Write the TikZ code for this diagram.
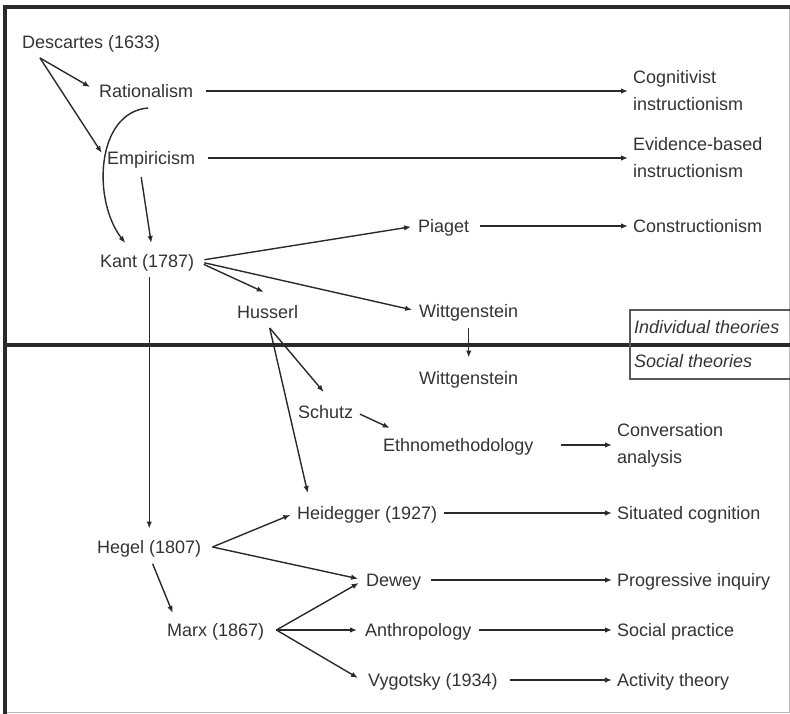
\documentclass[tikz,border=0pt]{standalone}
\usepackage{fontspec}
\setmainfont{Liberation Sans}
\usetikzlibrary{arrows.meta}
\definecolor{txt}{HTML}{333333}
\definecolor{ln}{HTML}{2A2A2A}
\begin{document}
\begin{tikzpicture}[x=1pt,y=-1pt,
  every node/.style={font=\fontsize{18}{27}\selectfont, text=txt},
  lbl/.style={anchor=west, inner sep=2pt, text height=12.5pt, text depth=0pt},
  two/.style={anchor=west, inner sep=2pt, align=left},
  arr/.style={draw=ln, line width=1.4pt, -{Latex[length=7pt,width=5.5pt]}},
  hz/.style={arr, shorten <=9pt, shorten >=3pt},
  frameline/.style={draw=ln, line width=3.4pt},
]
\useasboundingbox (0,0) rectangle (790,714);
% frame
\draw[gray!55, line width=1pt] (5,712) -- (789,712) -- (789,7);
\draw[frameline] (5,714) -- (5,7) -- (790,7);
\draw[frameline] (5,345) -- (790,345);
% legend box
\draw[gray!70!black, line width=1.1pt] (790,310) -- (630,310) -- (630,379) -- (790,379);
\node[lbl, font={\fontsize{18}{27}\selectfont\itshape}] (indiv) at (632,327) {Individual theories};
\node[lbl, font={\fontsize{18}{27}\selectfont\itshape}] (soc) at (632,361) {Social theories};

% nodes
\node[lbl] (desc) at (20,42) {Descartes (1633)};
\node[lbl] (rat) at (97,91) {Rationalism};
\node[lbl] (emp) at (105,158) {Empiricism};
\node[lbl] (kant) at (98,261) {Kant (1787)};
\node[two] (cog) at (631,90.5) {Cognitivist\\instructionism};
\node[two] (evid) at (631,158) {Evidence-based\\instructionism};
\node[lbl] (piaget) at (416,226) {Piaget};
\node[lbl] (constr) at (631,226) {Constructionism};
\node[lbl] (husserl) at (235,312) {Husserl};
\node[lbl] (witt1) at (417,311) {Wittgenstein};
\node[lbl] (witt2) at (417,378) {Wittgenstein};
\node[lbl] (schutz) at (296,412) {Schutz};
\node[lbl] (ethno) at (381,445) {Ethnomethodology};
\node[two] (conv) at (615,445) {Conversation\\analysis};
\node[lbl] (heid) at (295,513) {Heidegger (1927)};
\node[lbl] (situ) at (615,513) {Situated cognition};
\node[lbl] (hegel) at (95,547) {Hegel (1807)};
\node[lbl] (dewey) at (364,580) {Dewey};
\node[lbl] (prog) at (615,580) {Progressive inquiry};
\node[lbl] (marx) at (165,630) {Marx (1867)};
\node[lbl] (anth) at (363,630) {Anthropology};
\node[lbl] (social) at (615,630) {Social practice};
\node[lbl] (vyg) at (366,680) {Vygotsky (1934)};
\node[lbl] (act) at (615,680) {Activity theory};

% connectors
\coordinate (ds) at ([shift={(20,16)}]desc.west);
\draw[arr, shorten >=8pt] (ds) -- (rat.west);
\draw[arr, shorten >=6pt] (ds) -- (emp.west);
\draw[hz, shorten <=11pt] (rat.east) -- (rat.east -| cog.west);
\draw[hz, shorten <=11pt] (emp.east) -- (emp.east -| evid.west);
\draw[arr] ([shift={(2,17)}]rat.center) .. controls (96,112) and (92,200) .. ([shift={(-22,-18)}]kant.center);
\draw[arr] ([shift={(-10,19)}]emp.center) -- ([shift={(4,-18)}]kant.center);
\draw[arr, shorten <=8pt, shorten >=5pt] (kant.east) -- (piaget.west);
\draw[arr, shorten <=8pt] (kant.east) -- ([shift={(-4,-20)}]husserl.center);
\draw[arr, shorten <=8pt, shorten >=5pt] (kant.east) -- (witt1.west);
\draw[arr, shorten <=8pt, shorten >=10pt] (kant.south -| hegel.north) -- (hegel.north);
\draw[hz] (piaget.east) -- (constr.west);
\draw[arr, shorten <=9pt, shorten >=12pt] (witt1.south) -- (witt2.north);
\coordinate (hs) at ([shift={(2,16)}]husserl.center);
\draw[arr] (hs) -- ([shift={(-2,-20)}]schutz.center);
\draw[arr] (hs) -- ([shift={(-59.5,-20)}]heid.center);
\draw[arr, shorten <=5pt] (schutz.east) -- ([shift={(-68.5,-17)}]ethno.center);
\draw[arr, shorten <=25pt, shorten >=3pt] (ethno.east) -- (ethno.east -| conv.west);
\coordinate (hgf) at ([xshift=9pt]hegel.east);
\draw[arr, shorten >=5pt] (hgf) -- (heid.west);
\draw[arr, shorten >=6pt] (hgf) -- (dewey.west);
\draw[arr, shorten <=9pt] (hegel.south) -- ([shift={(-43,-17)}]marx.center);
\coordinate (mf) at ([xshift=10pt]marx.east);
\draw[arr, shorten >=6pt] (mf) -- (dewey.west);
\draw[arr, shorten >=6pt] (mf) -- (anth.west);
\draw[arr] (mf) -- ([shift={(-8,-2)}]vyg.west);
\draw[hz, shorten <=5pt] (heid.east) -- (situ.west);
\draw[hz, shorten <=8pt] (dewey.east) -- (prog.west);
\draw[hz, shorten <=6pt] (anth.east) -- (social.west);
\draw[hz, shorten <=10pt] (vyg.east) -- (act.west);
\end{tikzpicture}
\end{document}
